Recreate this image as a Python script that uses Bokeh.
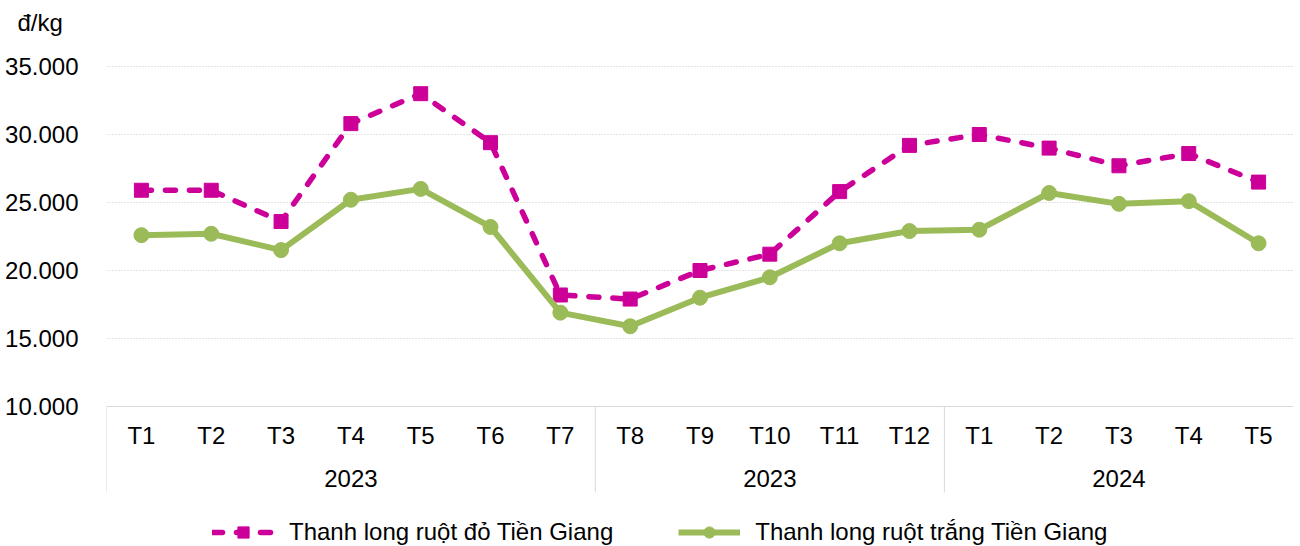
from bokeh.plotting import figure
from bokeh.models import Range1d, LinearAxis, FixedTicker, Legend, LegendItem, Grid
from bokeh.core.properties import value
from bokeh.embed import file_html
from bokeh.resources import INLINE

# ---------------- data ----------------
months = ["T1", "T2", "T3", "T4", "T5", "T6", "T7",
          "T8", "T9", "T10", "T11", "T12",
          "T1", "T2", "T3", "T4", "T5"]
year_labels = ["2023", "2023", "2024"]
year_sizes = [7, 5, 5]          # number of months under each year label
red_name = "Thanh long ruột đỏ Tiền Giang"
green_name = "Thanh long ruột trắng Tiền Giang"
red = [25900, 25900, 23600, 30800, 33000, 29400, 18200,
       17900, 20000, 21200, 25800, 29200,
       30000, 29000, 27700, 28600, 26500]
green = [22600, 22700, 21500, 25200, 26000, 23200, 16900,
         15900, 18000, 19500, 22000, 22900,
         23000, 25700, 24900, 25100, 22000]
y_ticks = [10000, 15000, 20000, 25000, 30000, 35000]
y_tick_labels = ["10.000", "15.000", "20.000", "25.000", "30.000", "35.000"]
unit_label = "đ/kg"

# ---------------- layout / styling ----------------
FONT = "Liberation Sans"
FS = "24px"
RED = "#CC0099"
GREEN = "#9BBB59"
LINE_GRAY = "#D9D9D9"

W, H = 1293, 546
FRAME_LEFT, FRAME_TOP = 106, 40
Y_TOP_PX, Y_BOT_PX = 66, 406          # pixel rows of the top / bottom y tick
px_per_unit = (Y_BOT_PX - Y_TOP_PX) / (y_ticks[-1] - y_ticks[0])


def y_at(px):
    """data value at a given pixel row"""
    return y_ticks[0] + (Y_BOT_PX - px) / px_per_unit


x = list(range(len(months)))

# group separators & centres
seps = [-0.5]
centres = []
start = 0
for n in year_sizes:
    centres.append(start + (n - 1) / 2)
    start += n
    seps.append(start - 0.5)

p = figure(width=W, height=H, output_backend="svg", toolbar_location=None,
           x_axis_type=None, y_axis_type=None,
           x_range=Range1d(-0.5, len(months) - 0.5),
           y_range=Range1d(y_at(H), y_at(FRAME_TOP)))
p.min_border_left = FRAME_LEFT
p.min_border_right = 0
p.min_border_top = FRAME_TOP
p.min_border_bottom = 0
p.outline_line_color = None
p.background_fill_color = "white"
p.border_fill_color = "white"

# unit label as a left-aligned title
p.title.text = unit_label
p.title.text_font = FONT
p.title.text_font_size = FS
p.title.text_font_style = "normal"
p.title.text_color = "black"
p.title.align = "left"
p.title.offset = -(FRAME_LEFT - 17)
p.title.standoff = 9

# y axis
yax = LinearAxis(ticker=FixedTicker(ticks=y_ticks, minor_ticks=[]),
                 major_label_overrides={t: l for t, l in zip(y_ticks, y_tick_labels)})
yax.axis_line_color = None
yax.major_tick_line_color = None
yax.minor_tick_line_color = None
yax.major_tick_out = 0
yax.minor_tick_out = 0
yax.major_label_standoff = 28
yax.major_label_text_font = FONT
yax.major_label_text_font_size = FS
yax.major_label_text_color = "black"
p.add_layout(yax, "left")

grid = Grid(dimension=1, ticker=FixedTicker(ticks=y_ticks[1:], minor_ticks=[]))
grid.grid_line_color = "#C8C8C8"
grid.grid_line_dash = "1 2"
grid.grid_line_width = 1
p.add_layout(grid)

# category table under the plot area
TABLE_BOTTOM = y_at(492)
p.segment(x0=[-0.5], y0=[y_ticks[0]], x1=[len(months) - 0.5], y1=[y_ticks[0]],
          line_color=LINE_GRAY, line_width=1)
p.segment(x0=seps, y0=[y_ticks[0]] * len(seps), x1=seps, y1=[TABLE_BOTTOM] * len(seps),
          line_color=LINE_GRAY, line_width=1)
p.text(x=x, y=[y_at(435)] * len(x), text=months,
       text_font=value(FONT), text_font_size=FS, text_color="black",
       text_align="center", text_baseline="middle")
p.text(x=centres, y=[y_at(478)] * len(centres), text=year_labels,
       text_font=value(FONT), text_font_size=FS, text_color="black",
       text_align="center", text_baseline="middle")

# series
r_line = p.line(x, red, line_color=RED, line_width=5.5, line_dash="10 14", line_cap="round")
r_pts = p.scatter(x, red, marker="square", size=14, fill_color=RED, line_color=RED)
g_line = p.line(x, green, line_color=GREEN, line_width=6, line_join="round")
g_pts = p.scatter(x, green, marker="circle", size=15, fill_color=GREEN, line_color=GREEN)

legend = Legend(items=[LegendItem(label=red_name, renderers=[r_line, r_pts]),
                       LegendItem(label=green_name, renderers=[g_line, g_pts])],
                orientation="horizontal", location=(106, 0))
legend.label_text_font = FONT
legend.label_text_font_size = FS
legend.label_text_color = "black"
legend.glyph_width = 62
legend.glyph_height = 28
legend.label_standoff = 15
legend.spacing = 65
legend.padding = 2
legend.margin = 0
legend.border_line_color = None
legend.background_fill_alpha = 0
p.add_layout(legend, "center")

open("out.html", "w").write(file_html(p, INLINE))
